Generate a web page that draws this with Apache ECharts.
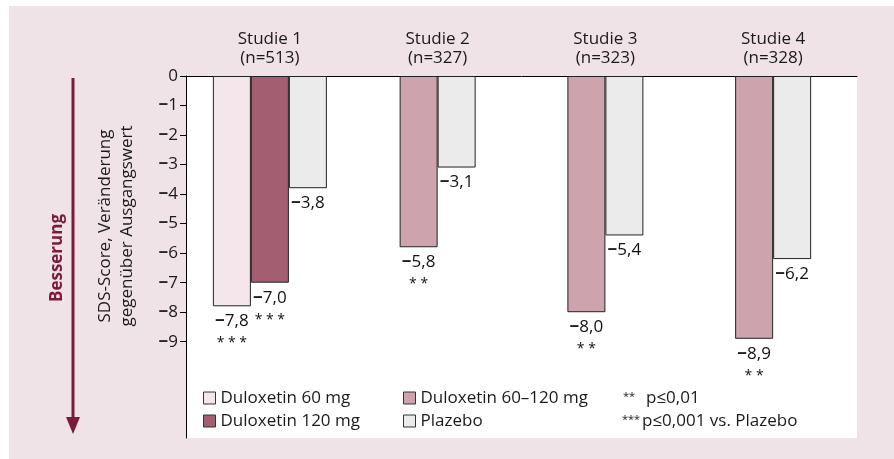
<!DOCTYPE html>
<html><head><meta charset="utf-8">
<script src="https://cdn.jsdelivr.net/npm/echarts@6/dist/echarts.min.js"></script>
<style>
html,body{margin:0;padding:0;background:#fff;}
#bg{position:absolute;left:9px;top:6px;width:885px;height:453px;background:#efe3e7;}
#c{position:absolute;left:0;top:0;width:894px;height:459px;}
</style></head>
<body><div id="bg"></div><div id="c"></div>
<script>
// ---- data ----
const categories = ['Studie 1\n(n=513)', 'Studie 2\n(n=327)', 'Studie 3\n(n=323)', 'Studie 4\n(n=328)'];
const dul60    = [-7.8, null, null, null];
const dul120   = [-7.0, null, null, null];
const dul60120 = [null, -5.8, -8.0, -8.9];
const placebo  = [-3.8, -3.1, -5.4, -6.2];
const stars60    = ['* * *', '', '', ''];
const stars120   = ['* * *', '', '', ''];
const stars60120 = ['', '* *', '* *', '* *'];
const yTicks = [0, -1, -2, -3, -4, -5, -6, -7, -8, -9];
const seriesNames = ['Duloxetin 60 mg', 'Duloxetin 120 mg', 'Duloxetin 60–120 mg', 'Plazebo'];
const sigStars = ['**', '***'];
const sigTexts = ['p≤0,01', 'p≤0,001 vs. Plazebo'];

const FONT = '"Open Sans", "Noto Sans", sans-serif';
const FS = 17;
const numText = v => Math.abs(v).toFixed(1).replace('.', ',');

function mkLabel(stars) {
  return {
    show: true, position: 'bottom', distance: 4, color: '#111',
    formatter: p => {
      const s = stars[p.dataIndex];
      return (p.value < 0 ? '{m|−}' : '') + '{v|' + numText(p.value) + '}' + (s ? '\n{s|' + s + '}' : '');
    },
    rich: {
      m: {fontSize: FS, lineHeight: 22, fontFamily: FONT, fontWeight: 'bold', color: '#111'},
      v: {fontSize: FS, lineHeight: 22, fontFamily: FONT, color: '#111'},
      s: {fontSize: 14, lineHeight: 22, fontFamily: FONT, color: '#111'}
    }
  };
}
const bw = 38;
const border = {borderColor: '#222', borderWidth: 1};

const chart = echarts.init(document.getElementById('c'), null, {renderer: 'canvas'});
chart.setOption({
  backgroundColor: 'transparent',
  textStyle: {fontFamily: FONT},
  animation: false,
  grid: {left: 186, top: 76, right: 37, bottom: 21, show: true, backgroundColor: '#fff', borderWidth: 0},
  xAxis: [
    {type: 'category', data: categories, position: 'top',
     axisLine: {lineStyle: {color: '#000', width: 1}},
     axisTick: {length: 6, lineStyle: {color: '#000'}},
     axisLabel: {margin: 8, fontSize: FS, lineHeight: 19, color: '#1a1a1a', fontFamily: FONT}},
    {type: 'category', data: categories, position: 'top', show: false}
  ],
  yAxis: {
    type: 'value', min: -12.26, max: 0,
    axisLine: {show: true, lineStyle: {color: '#000', width: 1}},
    axisTick: {show: true, length: 6, customValues: yTicks, lineStyle: {color: '#000'}},
    axisLabel: {customValues: yTicks,
      formatter: v => (v < 0 ? '{m|−}' : '') + '{v|' + Math.abs(v) + '}',
      rich: {m: {fontSize: FS, fontWeight: 'bold', color: '#1a1a1a', fontFamily: FONT},
             v: {fontSize: FS, color: '#1a1a1a', fontFamily: FONT}},
      fontSize: FS, color: '#1a1a1a', margin: 8, fontFamily: FONT},
    splitLine: {show: false}
  },
  legend: [
    {left: 203, top: 389, padding: 0, orient: 'vertical', itemWidth: 12, itemHeight: 12, itemGap: 5, selectedMode: false,
     icon: 'rect', data: [seriesNames[0], seriesNames[1]],
     itemStyle: {borderColor: '#333', borderWidth: 1},
     textStyle: {fontSize: FS, color: '#1a1a1a', fontFamily: FONT, lineHeight: 18}},
    {left: 403, top: 389, padding: 0, orient: 'vertical', itemWidth: 12, itemHeight: 12, itemGap: 5, selectedMode: false,
     icon: 'rect', data: [seriesNames[2], seriesNames[3]],
     itemStyle: {borderColor: '#333', borderWidth: 1},
     textStyle: {fontSize: FS, color: '#1a1a1a', fontFamily: FONT, lineHeight: 18}}
  ],
  series: [
    {name: seriesNames[0], type: 'bar', xAxisIndex: 0, data: dul60, barWidth: bw, barGap: '0%',
     itemStyle: Object.assign({color: '#f4e6eb'}, border), label: mkLabel(stars60)},
    {name: seriesNames[1], type: 'bar', xAxisIndex: 0, data: dul120, barWidth: bw, barGap: '0%',
     itemStyle: Object.assign({color: '#a35e71'}, border), label: mkLabel(stars120)},
    {name: seriesNames[3], type: 'bar', xAxisIndex: 0, data: placebo.map((v, i) => i === 0 ? v : null), barWidth: bw, barGap: '0%',
     itemStyle: Object.assign({color: '#ebebeb'}, border), label: mkLabel(['', '', '', ''])},
    {name: seriesNames[2], type: 'bar', xAxisIndex: 1, data: dul60120, barWidth: bw, barGap: '0%',
     itemStyle: Object.assign({color: '#cda3ae'}, border), label: mkLabel(stars60120)},
    {name: seriesNames[3], type: 'bar', xAxisIndex: 1, data: placebo.map((v, i) => i === 0 ? null : v), barWidth: bw, barGap: '0%',
     itemStyle: Object.assign({color: '#ebebeb'}, border), label: mkLabel(['', '', '', ''])}
  ],
  graphic: [
    {type: 'line', shape: {x1: 73, y1: 78, x2: 73, y2: 420}, style: {stroke: '#7d1a3c', lineWidth: 3}},
    {type: 'polygon', shape: {points: [[66, 417], [80, 417], [73, 434]]}, style: {fill: '#7d1a3c'}},
    {type: 'text', x: 57, y: 258, rotation: Math.PI / 2,
     style: {text: 'Besserung', fill: '#7d1a3c', fontSize: FS, fontWeight: 'bold', fontFamily: FONT, align: 'center', verticalAlign: 'middle'}},
    {type: 'text', x: 116, y: 226, rotation: Math.PI / 2,
     style: {text: 'SDS-Score, Veränderung\ngegenüber Ausgangswert', fill: '#1a1a1a', fontSize: FS, lineHeight: 22, fontFamily: FONT, align: 'center', verticalAlign: 'middle'}},
    {type: 'text', x: 623, y: 397, style: {text: sigStars[0], fill: '#1a1a1a', fontSize: 11, fontFamily: FONT, verticalAlign: 'middle'}},
    {type: 'text', x: 646, y: 398, style: {text: sigTexts[0], fill: '#1a1a1a', fontSize: FS, fontFamily: FONT, verticalAlign: 'middle'}},
    {type: 'text', x: 622, y: 420, style: {text: sigStars[1], fill: '#1a1a1a', fontSize: 11, fontFamily: FONT, verticalAlign: 'middle'}},
    {type: 'text', x: 642, y: 421, style: {text: sigTexts[1], fill: '#1a1a1a', fontSize: FS, fontFamily: FONT, verticalAlign: 'middle'}}
  ]
});
</script>
</body></html>
